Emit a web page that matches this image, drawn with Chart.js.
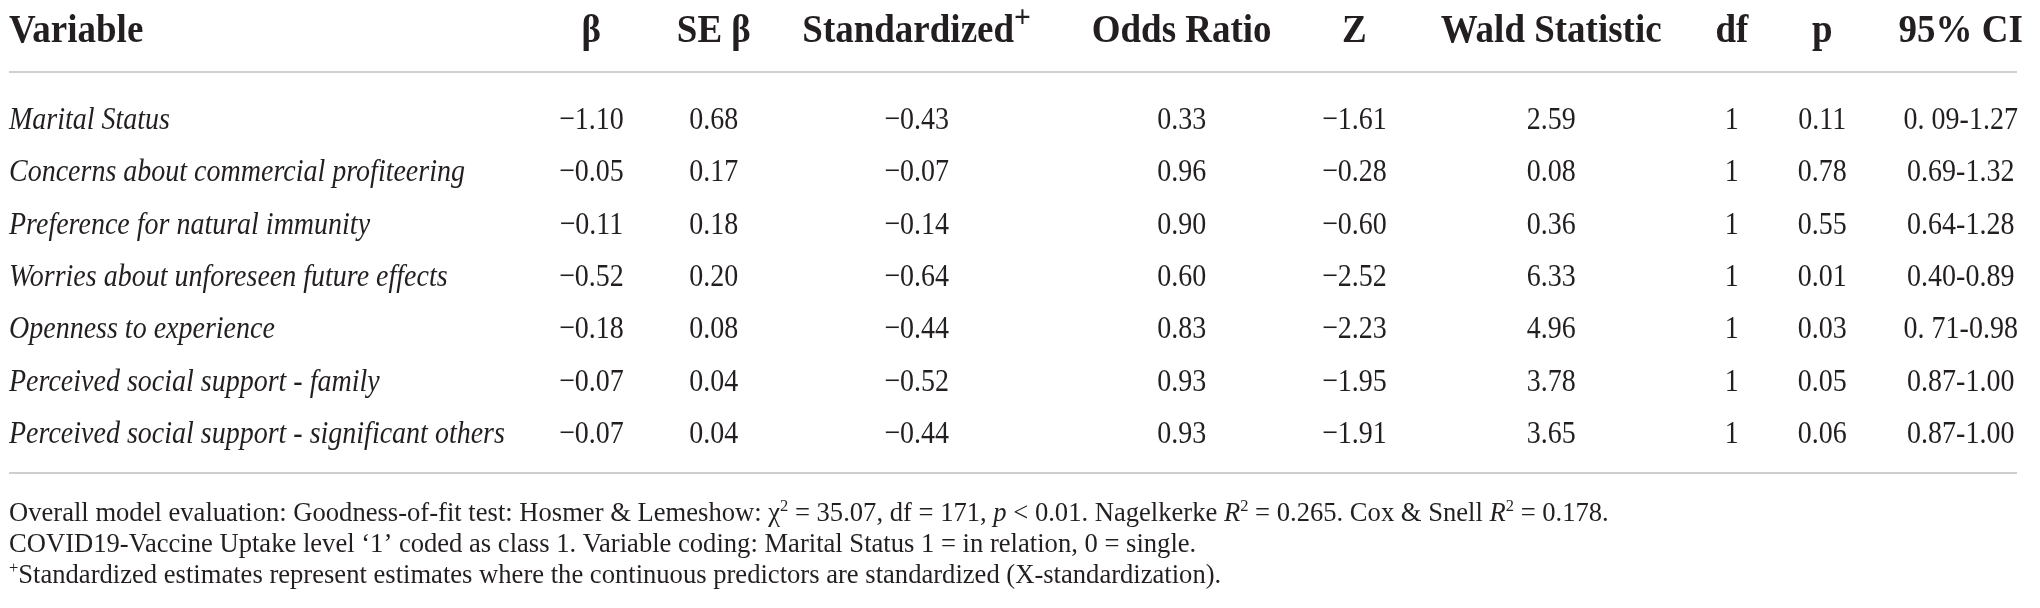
<!DOCTYPE html>
<html>
<head>
<meta charset="utf-8">
<script src="https://cdn.jsdelivr.net/npm/chart.js@4.4.1/dist/chart.umd.min.js"></script>
<style>
  html, body { margin: 0; padding: 0; background: #ffffff; }
</style>
</head>
<body>
<canvas id="tableChart" width="2040" height="608"></canvas>
<script>
// rows of the table
const variables = [
    "Marital Status",
    "Concerns about commercial profiteering",
    "Preference for natural immunity",
    "Worries about unforeseen future effects",
    "Openness to experience",
    "Perceived social support - family",
    "Perceived social support - significant others"
];
const beta         = [-1.10, -0.05, -0.11, -0.52, -0.18, -0.07, -0.07];
const seBeta       = [0.68, 0.17, 0.18, 0.20, 0.08, 0.04, 0.04];
const standardized = [-0.43, -0.07, -0.14, -0.64, -0.44, -0.52, -0.44];
const oddsRatio    = [0.33, 0.96, 0.90, 0.60, 0.83, 0.93, 0.93];
const zStat        = [-1.61, -0.28, -0.60, -2.52, -2.23, -1.95, -1.91];
const waldStat     = [2.59, 0.08, 0.36, 6.33, 4.96, 3.78, 3.65];
const dfValue      = [1, 1, 1, 1, 1, 1, 1];
const pValue       = [0.11, 0.78, 0.55, 0.01, 0.03, 0.05, 0.06];
const ci95         = ["0. 09-1.27", "0.69-1.32", "0.64-1.28", "0.40-0.89", "0. 71-0.98", "0.87-1.00", "0.87-1.00"];

// column headers (segments: s = sup)
const headers = [
    [{t: "Variable"}],
    [{t: "β"}],
    [{t: "SE β"}],
    [{t: "Standardized"}, {t: "+", s: true}],
    [{t: "Odds Ratio"}],
    [{t: "Z"}],
    [{t: "Wald Statistic"}],
    [{t: "df"}],
    [{t: "p"}],
    [{t: "95% CI"}]
];

// footnotes under the table (i = italic, s = sup)
const notes = [
    [{t: "Overall model evaluation: Goodness-of-fit test: Hosmer & Lemeshow: χ"}, {t: "2", s: true},
     {t: " = 35.07, df = 171, "}, {t: "p", i: true}, {t: " < 0.01. Nagelkerke "}, {t: "R", i: true},
     {t: "2", s: true}, {t: " = 0.265. Cox & Snell "}, {t: "R", i: true}, {t: "2", s: true}, {t: " = 0.178."}],
    [{t: "COVID19-Vaccine Uptake level ‘1’ coded as class 1. Variable coding: Marital Status 1 = in relation, 0 = single."}],
    [{t: "+", s: true}, {t: "Standardized estimates represent estimates where the continuous predictors are standardized (X-standardization)."}]
];

// layout: column anchor in % of table width
const colAnchor = [0, 29.0, 35.1, 45.2, 58.4, 67.0, 76.8, 85.8, 90.3, 97.2];

const fmt = v => v.toFixed(2).replace("-", "\u2212");

const cellColumns = [
    variables,
    beta.map(fmt),
    seBeta.map(fmt),
    standardized.map(fmt),
    oddsRatio.map(fmt),
    zStat.map(fmt),
    waldStat.map(fmt),
    dfValue.map(String),
    pValue.map(fmt),
    ci95
];

const FAMILY = '"Liberation Serif", "Times New Roman", serif';
const INK = "#231f20";

// draw text made of segments, stretched a bit in height like the source typeface
function drawRich(ctx, segs, x, baseline, align, size, weight, italicAll, sy, supScale) {
    const sup = supScale || 0.66;
    const parts = segs.map(seg => {
        const sz = seg.s ? size * sup : size;
        const it = (seg.i || italicAll) ? "italic " : "";
        const font = it + weight + " " + sz + "px " + FAMILY;
        ctx.font = font;
        return {t: seg.t, font: font, w: ctx.measureText(seg.t).width, rise: seg.s ? size * 0.36 : 0};
    });
    const total = parts.reduce((a, p) => a + p.w, 0);
    let cx = align === "left" ? x : (align === "right" ? x - total : x - total / 2);
    ctx.save();
    ctx.translate(0, baseline);
    ctx.scale(1, sy);
    ctx.fillStyle = INK;
    ctx.textBaseline = "alphabetic";
    ctx.textAlign = "left";
    for (const p of parts) {
        ctx.font = p.font;
        ctx.fillText(p.t, cx, -p.rise);
        cx += p.w;
    }
    ctx.restore();
}

const tablePlugin = {
    id: "tablePlugin",
    afterDatasetsDraw(chart) {
        const {ctx, chartArea, scales} = chart;
        const firstY = scales.y.getPixelForValue(0);
        const lastY = scales.y.getPixelForValue(variables.length - 1);

        // rules
        ctx.save();
        ctx.strokeStyle = "#cfcfcf";
        ctx.lineWidth = 2;
        for (const ly of [firstY - 46, lastY + 41]) {
            ctx.beginPath();
            ctx.moveTo(chartArea.left, ly);
            ctx.lineTo(chartArea.right, ly);
            ctx.stroke();
        }
        ctx.restore();

        // header row
        headers.forEach((h, c) => {
            const x = scales.x.getPixelForValue(colAnchor[c]);
            drawRich(ctx, h, x, firstY - 76, c === 0 ? "left" : "center", 37, "bold", false, 1.1, 0.8);
        });

        // body cells from the dataset elements
        chart.data.datasets.forEach((ds, c) => {
            const meta = chart.getDatasetMeta(c);
            meta.data.forEach((el, r) => {
                drawRich(ctx, [{t: ds.cellText[r]}], el.x, el.y + 11, c === 0 ? "left" : "center",
                    28, "normal", c === 0, 1.15);
            });
        });

        // footnotes
        notes.forEach((n, i) => {
            drawRich(ctx, n, chartArea.left, lastY + 89 + i * 31, "left", 26.6, "normal", false, 1.0, 0.62);
        });
    }
};

new Chart(document.getElementById("tableChart"), {
    type: "scatter",
    data: {
        datasets: cellColumns.map((vals, c) => ({
            label: headers[c].map(s => s.t).join(""),
            data: variables.map((v, r) => ({x: colAnchor[c], y: v})),
            cellText: vals,
            pointRadius: 0,
            pointHoverRadius: 0
        }))
    },
    options: {
        responsive: false,
        animation: false,
        devicePixelRatio: 1,
        layout: {padding: {left: 9, right: 23, top: 118, bottom: 176}},
        scales: {
            x: {type: "linear", min: 0, max: 100, display: false},
            y: {type: "category", labels: variables, offset: false, display: false}
        },
        plugins: {
            legend: {display: false},
            tooltip: {enabled: false}
        }
    },
    plugins: [tablePlugin]
});
</script>
</body>
</html>
